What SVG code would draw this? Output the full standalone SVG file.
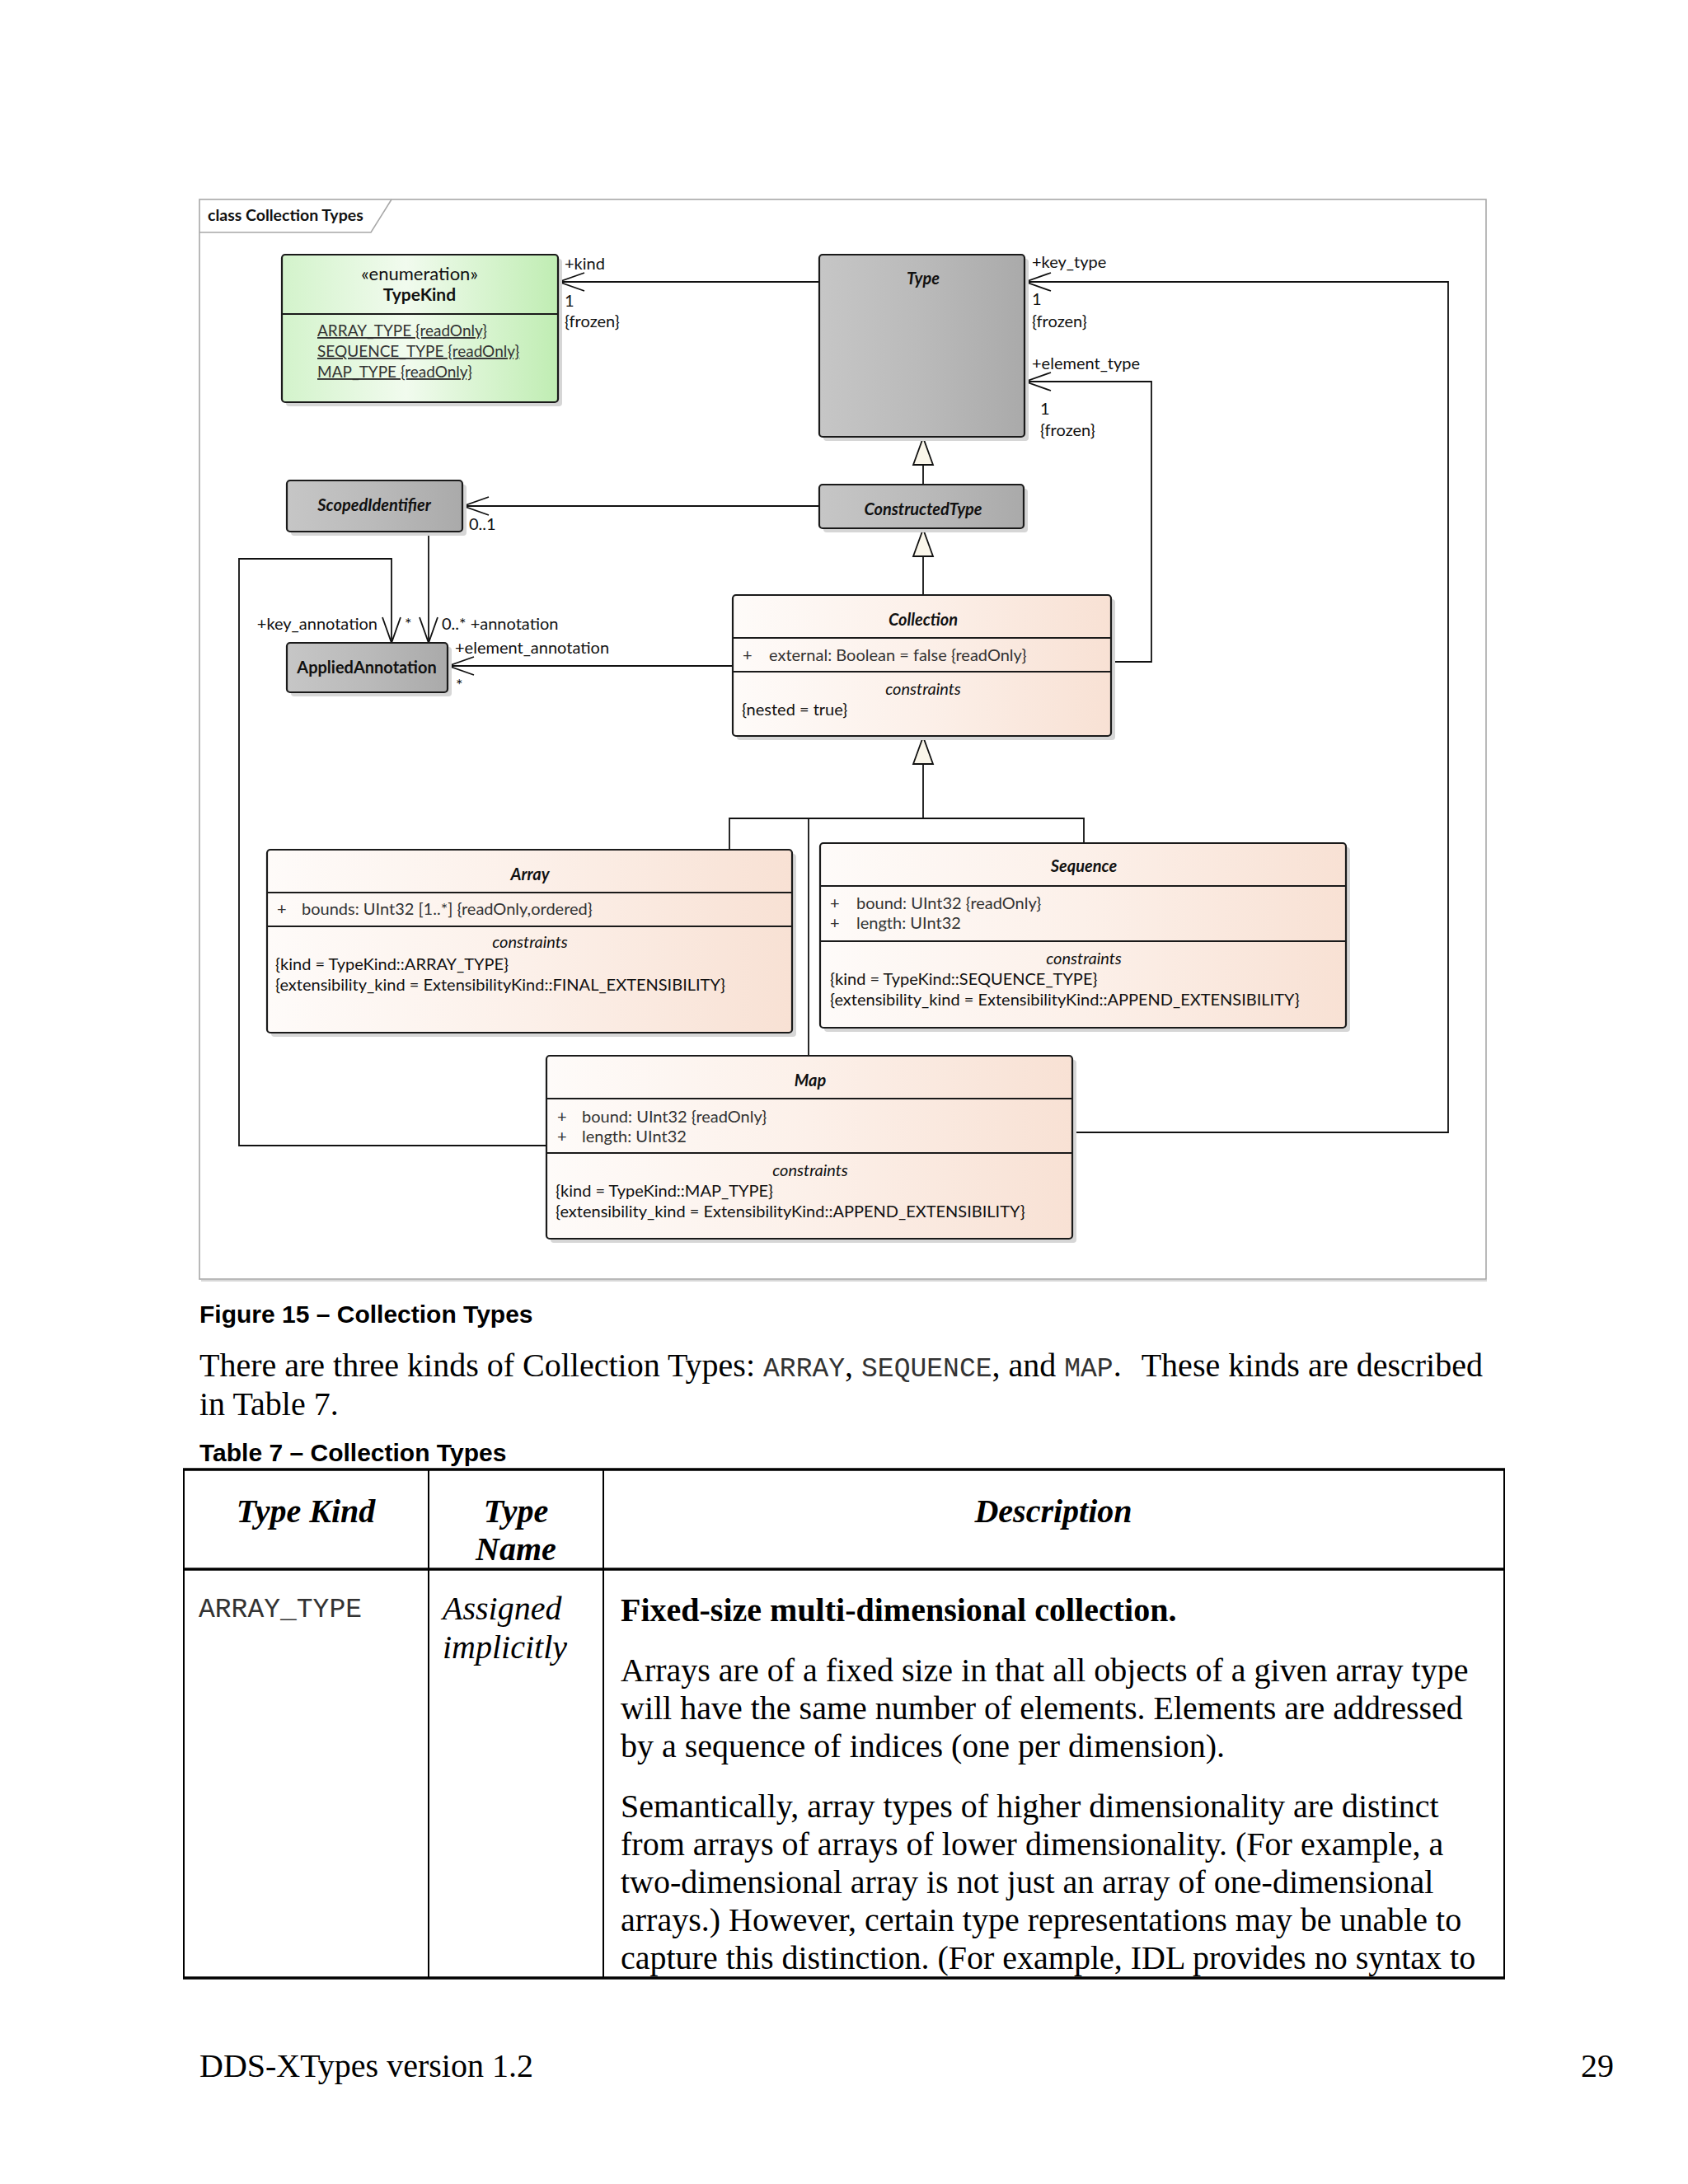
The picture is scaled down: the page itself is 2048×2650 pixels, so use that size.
<svg xmlns="http://www.w3.org/2000/svg" width="2048" height="2650" viewBox="0 0 2048 2650">
<style>
.uml{font-family:Lato,"Open Sans","Liberation Sans",sans-serif;font-size:20px;fill:#111}
.attr{font-family:Lato,"Open Sans","Liberation Sans",sans-serif;font-size:20px;fill:#333}
.title{font-family:Lato,"Open Sans","Liberation Sans",sans-serif;font-size:20px;font-weight:bold;font-style:italic;fill:#111}
.ttl{font-family:Lato,"Open Sans","Liberation Sans",sans-serif;font-size:20px;font-weight:bold;fill:#111}
.ital{font-style:italic}
.mid{text-anchor:middle}
.box{stroke:#1a1a1a;stroke-width:2.2}
.div{stroke:#1a1a1a;stroke-width:2.2}
.shadow{fill:#d6d6d6}
.conn{fill:none;stroke:#111;stroke-width:1.8}
.cap{font-family:"Liberation Sans",Arial,sans-serif;font-size:30px;font-weight:bold;fill:#000}
.body{font-family:"Liberation Serif","Times New Roman",serif;font-size:40px;fill:#000}
.mono{font-family:"Liberation Mono","Courier New",monospace;font-size:33px;fill:#333}
.tl{stroke:#000;stroke-width:2}
.tlb{stroke:#000;stroke-width:3.5}
</style>
<defs>
<linearGradient id="gGreen" x1="0" y1="0" x2="1" y2="0">
<stop offset="0" stop-color="#d3f3cb"/><stop offset="0.45" stop-color="#f1fbee"/><stop offset="1" stop-color="#c0edb3"/>
</linearGradient>
<linearGradient id="gGray" x1="0" y1="0" x2="1" y2="0">
<stop offset="0" stop-color="#c6c6c6"/><stop offset="0.5" stop-color="#bababa"/><stop offset="1" stop-color="#aaaaaa"/>
</linearGradient>
<linearGradient id="gPeach" x1="0" y1="0" x2="1" y2="0">
<stop offset="0" stop-color="#fefbf9"/><stop offset="0.5" stop-color="#fcf0e9"/><stop offset="1" stop-color="#f8e1d4"/>
</linearGradient>
<marker id="open" viewBox="-34 -14 36 28" refX="0" refY="0" markerWidth="36" markerHeight="28" markerUnits="userSpaceOnUse" orient="auto" overflow="visible">
<path d="M-31,-11 L0,0 L-31,11" fill="none" stroke="#111" stroke-width="1.8"/>
</marker>
<marker id="gen" viewBox="-36 -15 38 30" refX="0" refY="0" markerWidth="38" markerHeight="30" markerUnits="userSpaceOnUse" orient="auto" overflow="visible">
<path d="M0,0 L-33,-12 L-33,12 Z" fill="#faf6ea" stroke="#111" stroke-width="1.8"/>
</marker>
</defs>
<rect x="0" y="0" width="2048" height="2650" fill="#ffffff"/>

<!-- frame -->
<g id="frame">
<rect x="242" y="242" width="1561" height="1310" fill="none" stroke="#a8a8a8" stroke-width="1.6"/>
<line x1="244" y1="1554" x2="1804" y2="1554" stroke="#d8d8d8" stroke-width="2"/>
<path d="M242,282 L450,282 L475,242" fill="none" stroke="#a8a8a8" stroke-width="1.6"/>
<text x="252" y="268" class="ttl" style="font-size:19.5px">class Collection Types</text>
</g>

<!-- connectors -->
<g id="connectors">
<path class="conn" d="M994,342 L678,342" marker-end="url(#open)"/>
<path class="conn" d="M1301,1374 L1757,1374 L1757,342 L1244,342" marker-end="url(#open)"/>
<path class="conn" d="M1348,803 L1397,803 L1397,463 L1244,463" marker-end="url(#open)"/>
<path class="conn" d="M994,614 L562,614" marker-end="url(#open)"/>
<path class="conn" d="M520,645 L520,780" marker-end="url(#open)"/>
<path class="conn" d="M889,808 L544,808" marker-end="url(#open)"/>
<path class="conn" d="M663,1390 L290,1390 L290,678 L475,678 L475,780" marker-end="url(#open)"/>
<path class="conn" d="M1120,588 L1120,531" marker-end="url(#gen)"/>
<path class="conn" d="M1120,722 L1120,642" marker-end="url(#gen)"/>
<path class="conn" d="M885,1031 L885,993 L1315,993 L1315,1023"/>
<path class="conn" d="M981,1281 L981,993"/>
<path class="conn" d="M1120,993 L1120,894" marker-end="url(#gen)"/>
<text class="uml" x="685" y="327">+kind</text>
<text class="uml" x="685" y="372">1</text>
<text class="uml" x="685" y="397">{frozen}</text>
<text class="uml" x="1252" y="325">+key_type</text>
<text class="uml" x="1252" y="370">1</text>
<text class="uml" x="1252" y="397">{frozen}</text>
<text class="uml" x="1252" y="448">+element_type</text>
<text class="uml" x="1262" y="503">1</text>
<text class="uml" x="1262" y="529">{frozen}</text>
<text class="uml" x="569" y="643">0..1</text>
<text class="uml" x="458" y="764" text-anchor="end">+key_annotation</text>
<text class="uml" x="491" y="764">*</text>
<text class="uml" x="536" y="764">0..* +annotation</text>
<text class="uml" x="552" y="793">+element_annotation</text>
<text class="uml" x="553" y="838">*</text>
</g>

<!-- TypeKind -->
<g id="TypeKind">
<rect class="shadow" x="347" y="314" width="335" height="179" rx="4"/>
<rect class="box" x="342" y="309" width="335" height="179" rx="4" fill="url(#gGreen)"/>
<line class="div" x1="342" y1="381" x2="677" y2="381"/>
<text class="uml mid" x="509" y="340" style="font-size:22px">«enumeration»</text>
<text class="ttl mid" x="509" y="365" style="font-size:21px">TypeKind</text>
<text class="attr" x="385" y="408" style="font-size:19px" text-decoration="underline">ARRAY_TYPE {readOnly}</text>
<text class="attr" x="385" y="433" style="font-size:19px" text-decoration="underline">SEQUENCE_TYPE {readOnly}</text>
<text class="attr" x="385" y="458" style="font-size:19px" text-decoration="underline">MAP_TYPE {readOnly}</text>
</g>

<!-- Type -->
<g id="Type">
<rect class="shadow" x="999" y="314" width="249" height="221" rx="4"/>
<rect class="box" x="994" y="309" width="249" height="221" rx="4" fill="url(#gGray)"/>
<text class="title mid" x="1120" y="345">Type</text>
</g>

<!-- ConstructedType -->
<g id="ConstructedType">
<rect class="shadow" x="999" y="593" width="248" height="53" rx="4"/>
<rect class="box" x="994" y="588" width="248" height="53" rx="4" fill="url(#gGray)"/>
<text class="title mid" x="1120" y="625">ConstructedType</text>
</g>

<!-- ScopedIdentifier -->
<g id="ScopedIdentifier">
<rect class="shadow" x="353" y="588" width="213" height="62" rx="4"/>
<rect class="box" x="348" y="583" width="213" height="62" rx="4" fill="url(#gGray)"/>
<text class="title mid" x="454" y="620">ScopedIdentifier</text>
</g>

<!-- AppliedAnnotation -->
<g id="AppliedAnnotation">
<rect class="shadow" x="353" y="785" width="195" height="60" rx="4"/>
<rect class="box" x="348" y="780" width="195" height="60" rx="4" fill="url(#gGray)"/>
<text class="ttl mid" x="445" y="817">AppliedAnnotation</text>
</g>

<!-- Collection -->
<g id="Collection">
<rect class="shadow" x="894" y="727" width="459" height="171" rx="4"/>
<rect class="box" x="889" y="722" width="459" height="171" rx="4" fill="url(#gPeach)"/>
<line class="div" x1="889" y1="774" x2="1348" y2="774"/>
<line class="div" x1="889" y1="815" x2="1348" y2="815"/>
<text class="title mid" x="1120" y="759">Collection</text>
<text class="attr" x="901" y="802">+</text>
<text class="attr" x="933" y="802">external: Boolean = false {readOnly}</text>
<text class="uml mid ital" x="1120" y="843">constraints</text>
<text class="uml" x="900" y="868">{nested = true}</text>
</g>

<!-- Array -->
<g id="Array">
<rect class="shadow" x="329" y="1036" width="637" height="222" rx="4"/>
<rect class="box" x="324" y="1031" width="637" height="222" rx="4" fill="url(#gPeach)"/>
<line class="div" x1="324" y1="1083" x2="961" y2="1083"/>
<line class="div" x1="324" y1="1124" x2="961" y2="1124"/>
<text class="title mid" x="643" y="1068">Array</text>
<text class="attr" x="336" y="1110">+</text>
<text class="attr" x="366" y="1110">bounds: UInt32 [1..*] {readOnly,ordered}</text>
<text class="uml mid ital" x="643" y="1150">constraints</text>
<text class="uml" x="334" y="1177">{kind = TypeKind::ARRAY_TYPE}</text>
<text class="uml" x="334" y="1202">{extensibility_kind = ExtensibilityKind::FINAL_EXTENSIBILITY}</text>
</g>

<!-- Sequence -->
<g id="Sequence">
<rect class="shadow" x="1000" y="1028" width="638" height="224" rx="4"/>
<rect class="box" x="995" y="1023" width="638" height="224" rx="4" fill="url(#gPeach)"/>
<line class="div" x1="995" y1="1075" x2="1633" y2="1075"/>
<line class="div" x1="995" y1="1142" x2="1633" y2="1142"/>
<text class="title mid" x="1315" y="1058">Sequence</text>
<text class="attr" x="1007" y="1103">+</text>
<text class="attr" x="1039" y="1103">bound: UInt32 {readOnly}</text>
<text class="attr" x="1007" y="1127">+</text>
<text class="attr" x="1039" y="1127">length: UInt32</text>
<text class="uml mid ital" x="1315" y="1170">constraints</text>
<text class="uml" x="1007" y="1195">{kind = TypeKind::SEQUENCE_TYPE}</text>
<text class="uml" x="1007" y="1220">{extensibility_kind = ExtensibilityKind::APPEND_EXTENSIBILITY}</text>
</g>

<!-- Map -->
<g id="Map">
<rect class="shadow" x="668" y="1286" width="638" height="222" rx="4"/>
<rect class="box" x="663" y="1281" width="638" height="222" rx="4" fill="url(#gPeach)"/>
<line class="div" x1="663" y1="1333" x2="1301" y2="1333"/>
<line class="div" x1="663" y1="1399" x2="1301" y2="1399"/>
<text class="title mid" x="983" y="1318">Map</text>
<text class="attr" x="676" y="1362">+</text>
<text class="attr" x="706" y="1362">bound: UInt32 {readOnly}</text>
<text class="attr" x="676" y="1386">+</text>
<text class="attr" x="706" y="1386">length: UInt32</text>
<text class="uml mid ital" x="983" y="1427">constraints</text>
<text class="uml" x="674" y="1452">{kind = TypeKind::MAP_TYPE}</text>
<text class="uml" x="674" y="1477">{extensibility_kind = ExtensibilityKind::APPEND_EXTENSIBILITY}</text>
</g>

<!-- page text -->
<g id="caption">
<text class="cap" x="242" y="1605">Figure 15 – Collection Types</text>
<text class="body" x="242" y="1670">There are three kinds of Collection Types: <tspan class="mono">ARRAY</tspan>, <tspan class="mono">SEQUENCE</tspan>, and <tspan class="mono">MAP</tspan>.<tspan dx="24">These kinds are described</tspan></text>
<text class="body" x="242" y="1717">in Table 7.</text>
<text class="cap" x="242" y="1773">Table 7 – Collection Types</text>
</g>

<g id="table">
<line class="tlb" x1="222" y1="1783" x2="1826" y2="1783"/>
<line class="tlb" x1="222" y1="1904" x2="1826" y2="1904"/>
<line class="tlb" x1="222" y1="2400" x2="1826" y2="2400"/>
<line class="tl" x1="223" y1="1783" x2="223" y2="2400"/>
<line class="tl" x1="520" y1="1783" x2="520" y2="2400"/>
<line class="tl" x1="732" y1="1783" x2="732" y2="2400"/>
<line class="tl" x1="1825" y1="1783" x2="1825" y2="2400"/>
<text class="body mid" x="371" y="1847" font-weight="bold" font-style="italic">Type Kind</text>
<text class="body mid" x="626" y="1847" font-weight="bold" font-style="italic">Type</text>
<text class="body mid" x="626" y="1893" font-weight="bold" font-style="italic">Name</text>
<text class="body mid" x="1278" y="1847" font-weight="bold" font-style="italic">Description</text>
<text class="mono" x="241" y="1962">ARRAY_TYPE</text>
<text class="body" x="537" y="1965" font-style="italic">Assigned</text>
<text class="body" x="537" y="2012" font-style="italic">implicitly</text>
<text class="body" x="753" y="1967" font-weight="bold">Fixed-size multi-dimensional collection.</text>
<text class="body" x="753" y="2040">Arrays are of a fixed size in that all objects of a given array type</text>
<text class="body" x="753" y="2086">will have the same number of elements. Elements are addressed</text>
<text class="body" x="753" y="2132">by a sequence of indices (one per dimension).</text>
<text class="body" x="753" y="2205">Semantically, array types of higher dimensionality are distinct</text>
<text class="body" x="753" y="2251">from arrays of arrays of lower dimensionality. (For example, a</text>
<text class="body" x="753" y="2297">two-dimensional array is not just an array of one-dimensional</text>
<text class="body" x="753" y="2343">arrays.) However, certain type representations may be unable to</text>
<text class="body" x="753" y="2389">capture this distinction. (For example, IDL provides no syntax to</text>
</g>

<g id="footer">
<text class="body" x="242" y="2520">DDS-XTypes version 1.2</text>
<text class="body" x="1958" y="2520" text-anchor="end">29</text>
</g>
</svg>
